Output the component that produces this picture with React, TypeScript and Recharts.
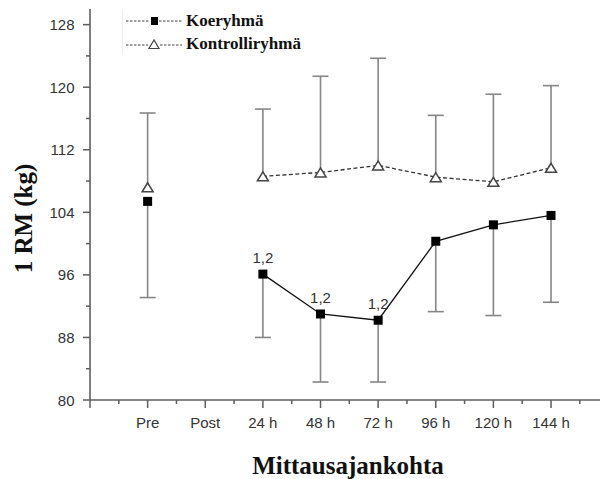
import {
  ComposedChart,
  Line,
  Scatter,
  XAxis,
  YAxis,
  ErrorBar,
  Legend,
  Label,
  LabelList,
} from "recharts";

// measurement points
const timepoints = ["Pre", "Post", "24 h", "48 h", "72 h", "96 h", "120 h", "144 h"];

// Koeryhmä: mean and lower end of the error bar
const koeMean = [105.4, null, 96.1, 91.0, 90.2, 100.3, 102.4, 103.6];
const koeLow = [93.1, null, 88.0, 82.3, 82.3, 91.3, 90.8, 92.5];

// Kontrolliryhmä: mean and upper end of the error bar
const ctrlMean = [107.2, null, 108.6, 109.1, 110.0, 108.5, 107.9, 109.7];
const ctrlHigh = [116.7, null, 117.2, 121.4, 123.7, 116.4, 119.1, 120.2];

// significance marks above the Koeryhmä points
const sigLabels = ["", "", "1,2", "1,2", "1,2", "", "", ""];

const xTicks = [0, 0.5, 1, 1.5, 2, 2.5, 3, 3.5, 4, 4.5, 5, 5.5, 6, 6.5, 7, 7.5, 8, 8.5];
const yTicks = [80, 84, 88, 92, 96, 100, 104, 108, 112, 116, 120, 124, 128];
const yLabelled = [80, 88, 96, 104, 112, 120, 128];

const AXIS = "#5e5e5e";
const WHISKER = "#868686";
const SANS = "'Liberation Sans', Arial, sans-serif";
const SERIF = "'Liberation Serif', 'Times New Roman', serif";

const chartData = timepoints.map((name, i) => {
  const km = koeMean[i];
  const kl = koeLow[i];
  const cm = ctrlMean[i];
  const ch = ctrlHigh[i];
  return {
    x: i + 1,
    name,
    koe: km,
    koeErr: km != null && kl != null ? [km - kl, 0] : null,
    koeLow: kl,
    ctrl: cm,
    ctrlErr: cm != null && ch != null ? [0, ch - cm] : null,
    ctrlHigh: ch,
    sig: sigLabels[i],
  };
});

const koeCaps = chartData.filter((d) => d.koeLow != null);
const ctrlCaps = chartData.filter((d) => d.ctrlHigh != null);

const XTick = (props: any) => {
  const { x, y, payload } = props;
  const v = payload.value;
  const major = Number.isInteger(v);
  const label = major && v >= 1 && v <= timepoints.length ? timepoints[v - 1] : "";
  return (
    <g>
      <line x1={x} x2={x} y1={y} y2={y + (major ? 8 : 4)} stroke={AXIS} strokeWidth={1.5} />
      {label && (
        <text x={x} y={y + 28} textAnchor="middle" fontSize={15} fontFamily={SANS} fill="#333">
          {label}
        </text>
      )}
    </g>
  );
};

const YTick = (props: any) => {
  const { x, y, payload } = props;
  const major = yLabelled.includes(payload.value);
  return (
    <g>
      <line x1={x - (major ? 7 : 4)} x2={x} y1={y} y2={y} stroke={AXIS} strokeWidth={1.5} />
      {major && (
        <text x={x - 15.5} y={y + 5.5} textAnchor="end" fontSize={15} fontFamily={SANS} fill="#333">
          {payload.value}
        </text>
      )}
    </g>
  );
};

const SquareDot = (props: any) => {
  const { cx, cy } = props;
  if (cx == null || cy == null || !isFinite(cy)) return null;
  return <rect x={cx - 4.5} y={cy - 4.5} width={9} height={9} fill="#000" />;
};

const TriangleDot = (props: any) => {
  const { cx, cy } = props;
  if (cx == null || cy == null || !isFinite(cy)) return null;
  return (
    <polygon
      points={`${cx - 5.5},${cy + 4.5} ${cx + 5.5},${cy + 4.5} ${cx},${cy - 4.5}`}
      fill="#fff"
      stroke="#444"
      strokeWidth={1.5}
    />
  );
};

const Cap = (props: any) => {
  const { cx, cy } = props;
  if (cx == null || cy == null || !isFinite(cy)) return null;
  return <line x1={cx - 8} x2={cx + 8} y1={cy} y2={cy} stroke={WHISKER} strokeWidth={1.6} />;
};

const SigLabel = (props: any) => {
  const { x, y, value } = props;
  if (!value) return null;
  return (
    <text x={x} y={y - 11} textAnchor="middle" fontSize={15} fontFamily={SANS} fill="#333">
      {value}
    </text>
  );
};

const LegendBox = () => {
  const row = { display: "flex", alignItems: "center", height: 23 };
  const text = { fontFamily: SERIF, fontWeight: 700, fontSize: 17, color: "#111", marginLeft: 4 };
  return (
    <div style={{ borderLeft: "1px solid #eee", paddingLeft: 3 }}>
      <div style={row}>
        <svg width={56} height={12}>
          <line x1={0} x2={24} y1={6} y2={6} stroke="#444" strokeDasharray="2.5 1.5" />
          <rect x={25} y={2} width={7} height={8} fill="#000" />
          <line x1={33} x2={56} y1={6} y2={6} stroke="#444" strokeDasharray="2.5 1.5" />
        </svg>
        <span style={text}>Koeryhmä</span>
      </div>
      <div style={row}>
        <svg width={56} height={12}>
          <line x1={0} x2={22} y1={7} y2={7} stroke="#444" strokeDasharray="2.5 1.5" />
          <polygon points="23,10.5 33,10.5 28,2" fill="#fff" stroke="#444" strokeWidth={1.2} />
          <line x1={34} x2={56} y1={7} y2={7} stroke="#444" strokeDasharray="2.5 1.5" />
        </svg>
        <span style={text}>Kontrolliryhmä</span>
      </div>
    </div>
  );
};

export default function App() {
  return (
    <div style={{ position: "absolute", left: 0, top: 0, width: 601, height: 479, background: "#fff" }}>
      <ComposedChart
        width={601}
        height={479}
        data={chartData}
        margin={{ top: 9, right: 1, bottom: 0, left: 0 }}
      >
        <XAxis
          dataKey="x"
          type="number"
          domain={[0, 8.85]}
          ticks={xTicks}
          interval={0}
          tick={<XTick />}
          tickLine={false}
          tickSize={0}
          tickMargin={0}
          height={79}
          allowDataOverflow
          axisLine={{ stroke: AXIS, strokeWidth: 1.6 }}
        >
          <Label
            content={(p: any) => {
              const vb = p.viewBox;
              return (
                <text
                  x={vb.x + vb.width / 2 + 3}
                  y={474}
                  textAnchor="middle"
                  fontFamily={SERIF}
                  fontWeight={700}
                  fontSize={25}
                  fill="#111"
                >
                  Mittausajankohta
                </text>
              );
            }}
          />
        </XAxis>
        <YAxis
          type="number"
          domain={[80, 130]}
          ticks={yTicks}
          interval={0}
          tick={<YTick />}
          tickLine={false}
          tickSize={0}
          tickMargin={0}
          width={90}
          allowDataOverflow
          axisLine={{ stroke: AXIS, strokeWidth: 1.6 }}
        >
          <Label
            content={(p: any) => {
              const vb = p.viewBox;
              const cy = vb.y + vb.height / 2 + 14;
              return (
                <text
                  x={31.5}
                  y={cy}
                  transform={`rotate(-90, 31.5, ${cy})`}
                  textAnchor="middle"
                  fontFamily={SERIF}
                  fontWeight={700}
                  fontSize={25}
                  fill="#111"
                >
                  1 RM (kg)
                </text>
              );
            }}
          />
        </YAxis>

        <Legend
          layout="vertical"
          align="center"
          verticalAlign="middle"
          wrapperStyle={{ top: 9, left: 122, width: 220 }}
          content={() => <LegendBox />}
        />

        <Scatter data={koeCaps} dataKey="koeLow" shape={<Cap />} isAnimationActive={false} legendType="none" />
        <Scatter data={ctrlCaps} dataKey="ctrlHigh" shape={<Cap />} isAnimationActive={false} legendType="none" />

        <Line
          dataKey="ctrl"
          stroke="#333"
          strokeWidth={1.3}
          strokeDasharray="4 2.5"
          dot={<TriangleDot />}
          activeDot={false}
          isAnimationActive={false}
        >
          <ErrorBar dataKey="ctrlErr" direction="y" width={0} stroke={WHISKER} strokeWidth={1.6} />
        </Line>
        <Line
          dataKey="koe"
          stroke="#111"
          strokeWidth={1.3}
          dot={<SquareDot />}
          activeDot={false}
          isAnimationActive={false}
        >
          <ErrorBar dataKey="koeErr" direction="y" width={0} stroke={WHISKER} strokeWidth={1.6} />
          <LabelList dataKey="sig" content={<SigLabel />} />
        </Line>
      </ComposedChart>
    </div>
  );
}
